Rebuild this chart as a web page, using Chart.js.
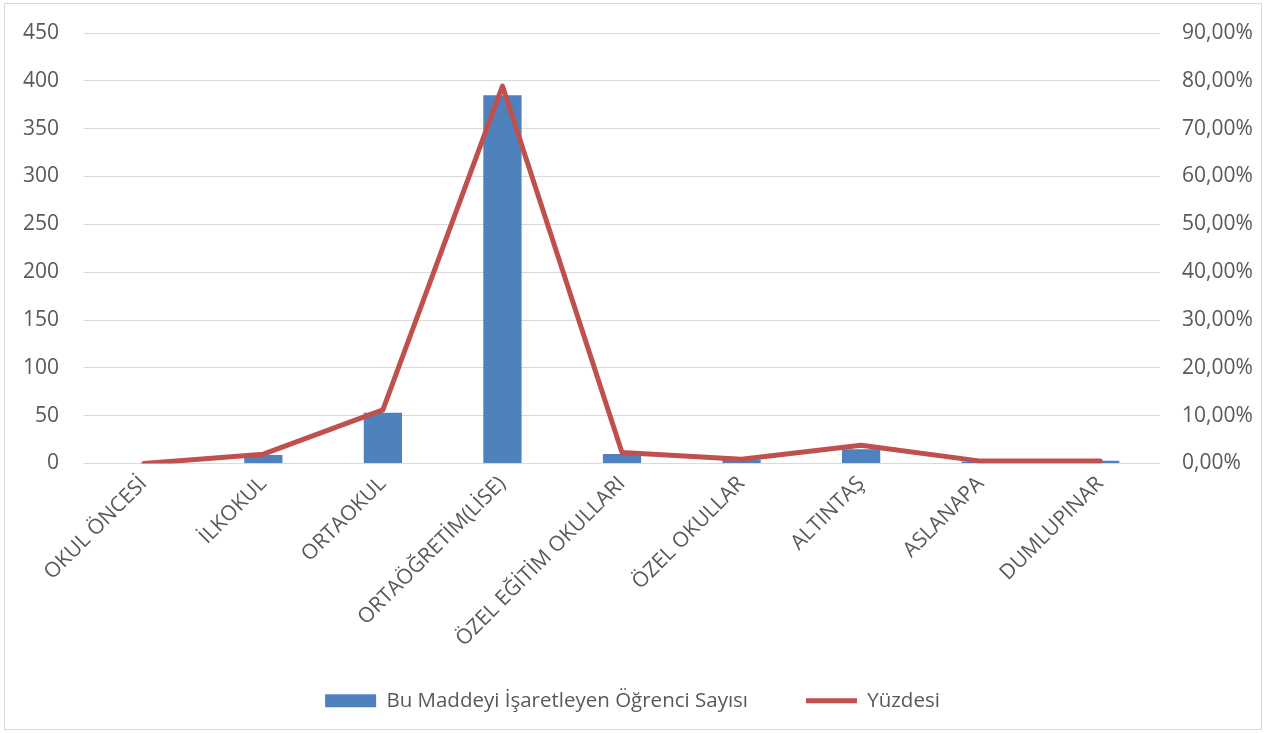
<!DOCTYPE html>
<html>
<head>
<meta charset="utf-8">
<script src="https://cdn.jsdelivr.net/npm/chart.js@4.4.1/dist/chart.umd.min.js"></script>
<style>
  html, body { margin: 0; padding: 0; background: #fff; }
  #kutu { position: absolute; left: 4px; top: 3px; width: 1256px; height: 725px; border: 1px solid #D9D9D9; }
  #alan { position: absolute; left: 0; top: 0; width: 1265px; height: 733px; }
</style>
</head>
<body>
<div id="kutu"></div>
<div id="alan"><canvas id="grafik" width="1265" height="733"></canvas></div>
<script>
// Kategoriler ve seriler
const kategoriler = ['OKUL ÖNCESİ', 'İLKOKUL', 'ORTAOKUL', 'ORTAÖĞRETİM(LİSE)', 'ÖZEL EĞİTİM OKULLARI', 'ÖZEL OKULLAR', 'ALTINTAŞ', 'ASLANAPA', 'DUMLUPINAR'];
const ogrenciSayisi = [0, 9, 53, 385, 10, 4, 15, 2, 3];
const yuzdeler = [0.000, 0.0195, 0.112, 0.789, 0.023, 0.009, 0.038, 0.005, 0.005];
const solEksen = { min: 0, max: 450, adim: 50 };
const sagEksen = { min: 0, max: 0.9, adim: 0.1 };

const yaziTipi = { family: '"Open Sans", sans-serif', size: 21 };
const lejantYazi = { family: '"Open Sans", sans-serif', size: 20.5 };
const yaziRengi = '#595959';

function yuzdeFormat(v) {
  return (v * 100).toFixed(2).replace('.', ',') + '%';
}

// dikey eksenlerin genişliği sabit, üst/alt boşluğu layout padding belirlesin
function dikeyEksenSabitle(genislik) {
  return function(scale) {
    scale.width = genislik;
    scale.paddingTop = 0;
    scale.paddingBottom = 0;
  };
}

const ctx = document.getElementById('grafik').getContext('2d');
new Chart(ctx, {
  type: 'bar',
  data: {
    labels: kategoriler,
    datasets: [
      {
        type: 'bar',
        label: 'Bu Maddeyi İşaretleyen Öğrenci Sayısı',
        data: ogrenciSayisi,
        backgroundColor: '#4F81BD',
        borderWidth: 0,
        categoryPercentage: 1,
        barPercentage: 0.32,
        yAxisID: 'y',
        order: 2,
        pointStyle: 'rect'
      },
      {
        type: 'line',
        label: 'Yüzdesi',
        data: yuzdeler,
        borderColor: '#C0504D',
        backgroundColor: '#C0504D',
        borderWidth: 5,
        borderCapStyle: 'round',
        borderJoinStyle: 'round',
        tension: 0,
        pointRadius: 0,
        pointHoverRadius: 0,
        fill: false,
        yAxisID: 'y1',
        order: 1,
        pointStyle: 'line'
      }
    ]
  },
  options: {
    responsive: false,
    animation: false,
    layout: { padding: { top: 33, bottom: 12, left: 0, right: 0 } },
    plugins: {
      legend: {
        display: true,
        position: 'bottom',
        reverse: true,
        labels: {
          usePointStyle: true,
          pointStyleWidth: 51,
          boxHeight: 13,
          padding: 10,
          color: yaziRengi,
          font: lejantYazi,
          generateLabels: function(chart) {
            const items = Chart.defaults.plugins.legend.labels.generateLabels(chart);
            // Excel'deki gibi iki öğe arasında geniş boşluk
            items.forEach(function(it) {
              if (it.datasetIndex === 0) it.text += '\u00A0'.repeat(9);
            });
            return items;
          }
        }
      },
      tooltip: { enabled: false }
    },
    scales: {
      x: {
        offset: true,
        grid: { display: false, drawTicks: false },
        border: { display: false },
        ticks: {
          color: yaziRengi,
          font: yaziTipi,
          minRotation: 45,
          maxRotation: 45,
          autoSkip: false,
          padding: 8
        },
        afterFit: function(scale) { scale.height = 217; }
      },
      y: {
        position: 'left',
        min: solEksen.min,
        max: solEksen.max,
        grid: { color: '#D9D9D9', lineWidth: 1, drawTicks: false },
        border: { display: false },
        ticks: {
          stepSize: solEksen.adim,
          color: yaziRengi,
          font: yaziTipi,
          padding: 25
        },
        afterFit: dikeyEksenSabitle(84)
      },
      y1: {
        position: 'right',
        min: sagEksen.min,
        max: sagEksen.max,
        grid: { display: false, drawTicks: false },
        border: { display: false },
        ticks: {
          stepSize: sagEksen.adim,
          color: yaziRengi,
          font: yaziTipi,
          padding: 22,
          callback: function(v) { return yuzdeFormat(v); }
        },
        afterFit: dikeyEksenSabitle(105)
      }
    }
  }
});
</script>
</body>
</html>
